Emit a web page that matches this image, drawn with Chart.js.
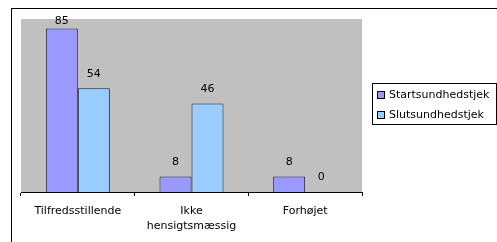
<!DOCTYPE html>
<html>
<head>
<meta charset="utf-8">
<script src="https://cdn.jsdelivr.net/npm/chart.js@4/dist/chart.umd.min.js"></script>
<style>
html,body{margin:0;padding:0;background:#fff;}
canvas{display:block;}
</style>
</head>
<body>
<canvas id="c" width="497" height="242"></canvas>
<script>
const categories = ["Tilfredsstillende", ["Ikke", "hensigtsmæssig"], "Forhøjet"];
const seriesNames = ["Startsundhedstjek", "Slutsundhedstjek"];
const startValues = [85, 8, 8];
const slutValues = [54, 46, 0];
const yMin = 0;
const yMax = 90;

const FONT = "'DejaVu Sans', sans-serif";

const framePlugin = {
  id: 'frame',
  beforeDraw(chart) {
    const ctx = chart.ctx, a = chart.chartArea;
    ctx.save();
    ctx.fillStyle = '#fff';
    ctx.fillRect(0, 0, chart.width, chart.height);
    ctx.strokeStyle = '#000';
    ctx.lineWidth = 1;
    ctx.strokeRect(11.5, 8.5, 700, 400);
    ctx.fillStyle = '#C0C0C0';
    ctx.fillRect(a.left, a.top, a.right - a.left, a.bottom - a.top);
    ctx.restore();
  },
  afterDatasetsDraw(chart) {
    const ctx = chart.ctx, a = chart.chartArea;
    ctx.save();
    ctx.font = "11px " + FONT;
    ctx.fillStyle = '#000';
    ctx.textAlign = 'center';
    ctx.textBaseline = 'middle';
    chart.data.datasets.forEach((ds, di) => {
      const meta = chart.getDatasetMeta(di);
      meta.data.forEach((el, i) => {
        const y = Math.max(el.y - 14.5, a.top + 2.5);
        ctx.fillText(String(ds.data[i]), el.x, y);
      });
    });
    // legend
    ctx.strokeStyle = '#000';
    ctx.lineWidth = 1;
    ctx.strokeRect(372.5, 83.5, 124, 41);
    ctx.textAlign = 'left';
    chart.data.datasets.forEach((ds, di) => {
      const cy = 95 + di * 20;
      ctx.fillStyle = ds.backgroundColor;
      ctx.fillRect(378, cy - 3, 6, 6);
      ctx.strokeRect(377.5, cy - 3.5, 7, 7);
      ctx.fillStyle = '#000';
      ctx.fillText(ds.label, 389, cy);
    });
    ctx.restore();
  }
};

new Chart(document.getElementById('c'), {
  type: 'bar',
  data: {
    labels: categories,
    datasets: [
      { label: seriesNames[0], data: startValues, backgroundColor: '#9999FF', borderColor: '#222', borderWidth: 1, categoryPercentage: 0.563, barPercentage: 1 },
      { label: seriesNames[1], data: slutValues, backgroundColor: '#99CCFF', borderColor: '#222', borderWidth: 1, categoryPercentage: 0.563, barPercentage: 1 }
    ]
  },
  options: {
    responsive: false,
    animation: false,
    devicePixelRatio: 1,
    layout: { padding: { left: 21, top: 19, right: 135, bottom: 0 } },
    plugins: { legend: { display: false }, tooltip: { enabled: false } },
    scales: {
      y: { display: false, min: yMin, max: yMax },
      x: {
        afterFit(scale) { scale.height = 50; },
        border: { display: true, color: '#000', width: 1 },
        grid: { drawOnChartArea: false, drawTicks: true, tickLength: 4, color: '#000', offset: true },
        ticks: { color: '#000', padding: 8, maxRotation: 0, autoSkip: false, font: { family: FONT, size: 11, lineHeight: 1.36 } }
      }
    }
  },
  plugins: [framePlugin]
});
</script>
</body>
</html>
